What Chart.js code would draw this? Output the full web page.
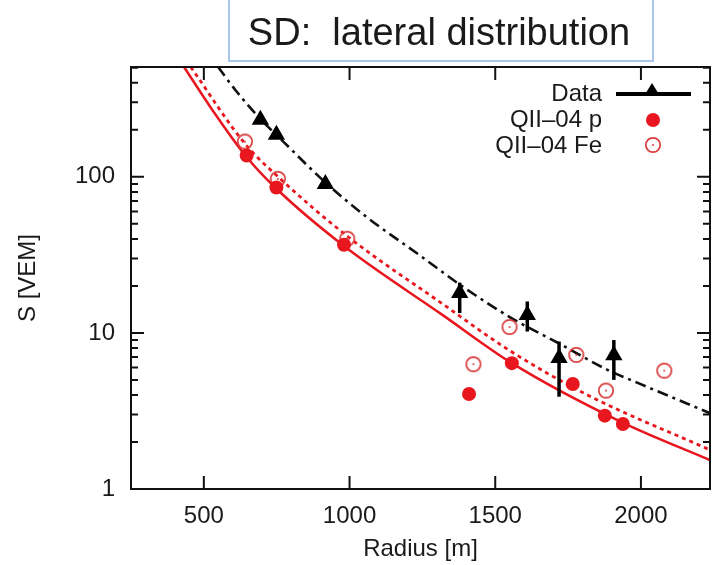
<!DOCTYPE html>
<html>
<head>
<meta charset="utf-8">
<script src="https://cdn.jsdelivr.net/npm/chart.js@4.4.1/dist/chart.umd.min.js"></script>
<style>
  body { margin: 0; background: #fff; }
</style>
</head>
<body>
<canvas id="myChart" width="720" height="565"></canvas>
<script>

// measured signal vs radius (triangles with error bars)
const dataR  = [694, 749, 917, 1378, 1610, 1719, 1907];
const dataS  = [232, 186, 90, 18, 13, 6.9, 7.2];
const dataLo = [null, null, null, 13.4, 10.2, 3.9, 5.0];
const dataHi = [null, null, null, 21, 15.9, 8.8, 9.0];

// QII-04 simulations
const protonR = [647, 749, 981, 1410, 1557, 1766, 1876, 1938];
const protonS = [137, 85.4, 36.7, 4.06, 6.4, 4.71, 2.95, 2.61];
const ironR = [641, 754, 992, 1425, 1549, 1778, 1880, 2080];
const ironS = [168, 97, 40.1, 6.3, 10.9, 7.23, 4.27, 5.73];

const fitDataR = [549, 608, 694, 777, 917, 1060, 1240, 1388, 1557, 1727, 1885, 1987, 2237];
const fitDataS = [505, 360, 235, 165, 92, 55, 31.5, 19.8, 12.4, 8.4, 5.8, 4.8, 3.06];
const fitProtonR = [432, 528, 641, 743, 981, 1320, 1557, 1930, 2237];
const fitProtonS = [505, 270, 138, 86, 36, 13.0, 6.4, 2.7, 1.53];
const fitIronR = [455, 641, 760, 997, 1320, 1545, 1817, 2237];
const fitIronS = [505, 163, 98, 41, 15.3, 7.8, 4.0, 1.78];

const xTicks = [500, 1000, 1500, 2000];
const yTicks = [1, 10, 100];

const red = '#e8161e';
const ringRed = '#d93a3a';
const FONT = '"Liberation Sans", Arial, sans-serif';

const toPoints = (xs, ys) => xs.map((x, i) => ({ x: x, y: ys[i] }));

// open circle with a small dot in the middle
const ringDot = (() => {
    const c = document.createElement('canvas');
    c.width = 20; c.height = 20;
    const g = c.getContext('2d');
    g.strokeStyle = ringRed;
    g.lineWidth = 1.7;
    g.beginPath(); g.arc(10, 10, 7.2, 0, Math.PI * 2); g.stroke();
    g.fillStyle = ringRed;
    g.beginPath(); g.arc(10, 10, 1, 0, Math.PI * 2); g.fill();
    return c;
})();

const errorBars = {
    id: 'errorBars',
    afterDatasetsDraw(chart) {
        const { ctx, scales: { x, y } } = chart;
        ctx.save();
        ctx.strokeStyle = '#000';
        ctx.lineWidth = 3.5;
        dataR.forEach((r, i) => {
            if (dataLo[i] == null) return;
            const px = x.getPixelForValue(r);
            ctx.beginPath();
            ctx.moveTo(px, y.getPixelForValue(dataLo[i]));
            ctx.lineTo(px, y.getPixelForValue(dataHi[i]));
            ctx.stroke();
        });
        ctx.restore();
    }
};

// box frame + inward ticks on all four sides, like gnuplot
const frame = {
    id: 'frame',
    afterDraw(chart) {
        const { ctx, chartArea: a, scales: { x, y } } = chart;
        ctx.save();
        ctx.strokeStyle = '#111';
        ctx.lineWidth = 2;
        ctx.strokeRect(a.left, a.top, a.right - a.left, a.bottom - a.top);
        ctx.beginPath();
        xTicks.forEach(v => {
            const px = x.getPixelForValue(v);
            ctx.moveTo(px, a.bottom); ctx.lineTo(px, a.bottom - 13);
            ctx.moveTo(px, a.top); ctx.lineTo(px, a.top + 13);
        });
        for (let dec = 1; dec <= 100; dec *= 10) {
            for (let k = 1; k <= 9; k++) {
                const v = k * dec;
                if (v > y.max) break;
                const py = y.getPixelForValue(v);
                const len = k === 1 ? 13 : 7;
                ctx.moveTo(a.left, py); ctx.lineTo(a.left + len, py);
                ctx.moveTo(a.right, py); ctx.lineTo(a.right - len, py);
            }
        }
        ctx.stroke();

        // title box
        ctx.strokeStyle = '#a9c7ec';
        ctx.lineWidth = 2;
        ctx.strokeRect(229, -4, 424, 65);
        ctx.fillStyle = '#1a1a1a';
        ctx.font = '38px ' + FONT;
        ctx.textAlign = 'center';
        ctx.textBaseline = 'alphabetic';
        ctx.fillText('SD:  lateral distribution', 439, 45);

        // key
        ctx.font = '24px ' + FONT;
        ctx.textAlign = 'right';
        ctx.textBaseline = 'middle';
        ctx.fillText('Data', 602, 94);
        ctx.fillText('QII\u201304 p', 602, 120);
        ctx.fillText('QII\u201304 Fe', 602, 146);

        ctx.strokeStyle = '#000';
        ctx.lineWidth = 4;
        ctx.beginPath(); ctx.moveTo(616, 94); ctx.lineTo(691, 94); ctx.stroke();
        ctx.fillStyle = '#000';
        ctx.beginPath();
        ctx.moveTo(652, 83); ctx.lineTo(660, 96); ctx.lineTo(644, 96); ctx.closePath();
        ctx.fill();

        ctx.fillStyle = red;
        ctx.beginPath(); ctx.arc(653, 120, 7, 0, Math.PI * 2); ctx.fill();
        ctx.drawImage(ringDot, 653 - 10, 145 - 10);
        ctx.restore();
    }
};

const ctx = document.getElementById('myChart').getContext('2d');
new Chart(ctx, {
    type: 'scatter',
    data: {
        datasets: [
            {
                label: 'Data',
                data: toPoints(dataR, dataS),
                pointStyle: 'triangle',
                pointRadius: 10,
                backgroundColor: '#000',
                borderColor: '#000',
                borderWidth: 0
            },
            {
                label: 'QII-04 p',
                data: toPoints(protonR, protonS),
                pointStyle: 'circle',
                pointRadius: 7,
                backgroundColor: red,
                borderColor: red,
                borderWidth: 0
            },
            {
                label: 'QII-04 Fe',
                data: toPoints(ironR, ironS),
                pointStyle: ringDot
            },
            {
                label: 'fit data',
                data: toPoints(fitDataR, fitDataS),
                showLine: true,
                pointRadius: 0,
                borderColor: '#111',
                borderWidth: 2.6,
                borderDash: [11, 5, 3, 5],
                cubicInterpolationMode: 'monotone'
            },
            {
                label: 'fit Fe',
                data: toPoints(fitIronR, fitIronS),
                showLine: true,
                pointRadius: 0,
                borderColor: red,
                borderWidth: 2.8,
                borderDash: [4, 4],
                cubicInterpolationMode: 'monotone'
            },
            {
                label: 'fit p',
                data: toPoints(fitProtonR, fitProtonS),
                showLine: true,
                pointRadius: 0,
                borderColor: red,
                borderWidth: 2.5,
                cubicInterpolationMode: 'monotone'
            }
        ]
    },
    options: {
        responsive: false,
        animation: false,
        devicePixelRatio: 1,
        layout: { padding: { top: 67, right: 3, left: 0, bottom: 0 } },
        plugins: {
            legend: { display: false },
            tooltip: { enabled: false }
        },
        scales: {
            x: {
                type: 'linear',
                min: 250,
                max: 2237,
                afterBuildTicks: axis => { axis.ticks = xTicks.map(v => ({ value: v })); },
                afterFit: axis => { axis.height = 76; },
                grid: { display: false, drawTicks: false, tickLength: 0 },
                border: { display: false },
                ticks: {
                    padding: 13,
                    color: '#1a1a1a',
                    font: { family: FONT, size: 24 },
                    maxRotation: 0,
                    callback: v => String(v)
                },
                title: {
                    display: true,
                    text: 'Radius [m]',
                    color: '#1a1a1a',
                    font: { family: FONT, size: 24 },
                    padding: { top: 0, bottom: 1 }
                }
            },
            y: {
                type: 'logarithmic',
                min: 1,
                max: 505,
                afterBuildTicks: axis => { axis.ticks = yTicks.map(v => ({ value: v })); },
                afterFit: axis => { axis.width = 131; },
                grid: { display: false, drawTicks: false, tickLength: 0 },
                border: { display: false },
                ticks: {
                    padding: 16,
                    color: '#1a1a1a',
                    font: { family: FONT, size: 24 },
                    callback: v => String(v)
                },
                title: {
                    display: true,
                    text: 'S [VEM]',
                    color: '#1a1a1a',
                    font: { family: FONT, size: 24 },
                    padding: { top: 14, bottom: 0 }
                }
            }
        }
    },
    plugins: [errorBars, frame]
});
</script>
</body>
</html>
